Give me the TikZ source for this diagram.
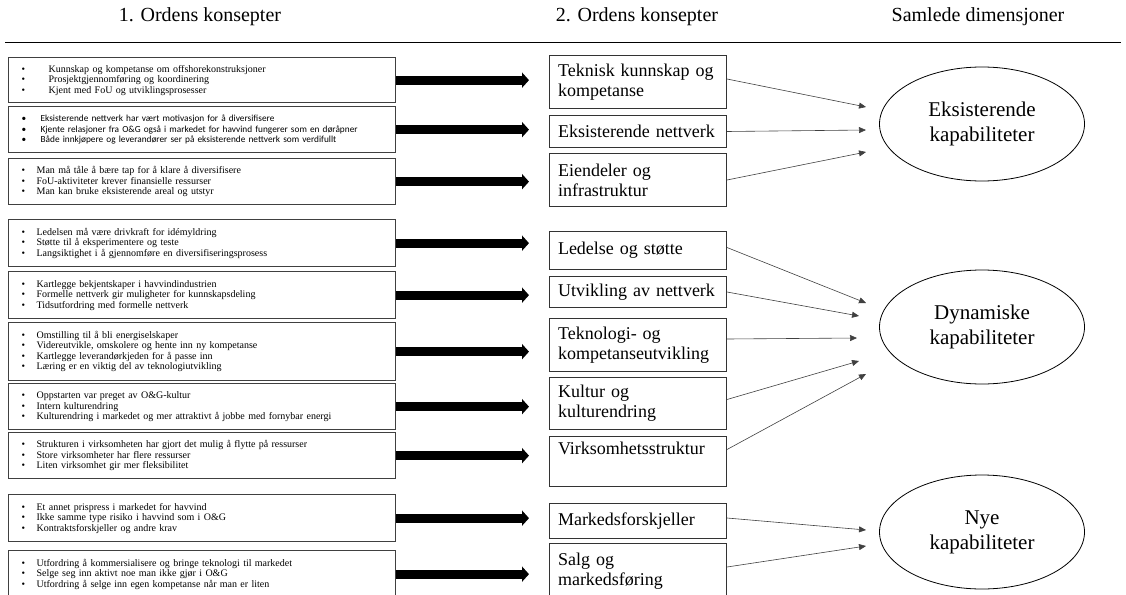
\documentclass[tikz,border=0pt]{standalone}
\usepackage{fontspec}
\setmainfont{Liberation Serif}
\newfontfamily\calibri{Carlito}
\usetikzlibrary{arrows.meta,shapes.geometric}
\newcommand\itm[1][15pt]{\makebox[#1][l]{\textbullet}}

\begin{document}
\begin{tikzpicture}[x=1pt, y=-1pt,
  lbox/.style={draw=black!75, line width=1.3pt, anchor=north west, minimum width=387pt, text width=361pt, inner xsep=13pt, inner ysep=0pt, align=left, font=\fontsize{10}{10.5}\selectfont},
  mbox/.style={draw=black!80, line width=1pt, anchor=north west, minimum width=177pt, text width=160pt, inner xsep=8.5pt, inner ysep=0pt, align=left, font=\fontsize{18}{20}\selectfont},
  dim/.style={draw, ellipse, line width=0.8pt, minimum width=205pt, minimum height=114pt, align=center, font=\fontsize{21}{25}\selectfont},
  head/.style={anchor=base, font=\fontsize{20}{24}\selectfont},
  fat/.style={line width=9pt, -{Triangle[length=7pt,width=15pt]}, shorten >=20pt},
  thin/.style={draw=black!75, line width=0.6pt, -{Triangle[length=7pt,width=6pt]}}]

\useasboundingbox (0,0) rectangle (1126,594);
\clip (0,0) rectangle (1126,594);

% headings
\node[head] (h1) at (200,22) {1. Ordens konsepter};
\node[head] (h2) at (637,22) {2. Ordens konsepter};
\node[head] (h3) at (978,22) {Samlede dimensjoner};
\draw[line width=0.8pt] (5,42) -- (1121,42);

% 1. ordens konsepter
\node[lbox, minimum height=45pt] (l1) at (8,57) {\itm[27pt]Kunnskap og kompetanse om offshorekonstruksjoner\\ \itm[27pt]Prosjektgjennomføring og koordinering\\ \itm[27pt]Kjent med FoU og utviklingsprosesser};
\node[lbox, minimum height=46pt, font=\calibri\fontsize{9.3}{10.5}\selectfont] (l2) at (8,106) {\itm[19pt]Eksisterende nettverk har vært motivasjon for å diversifisere\\ \itm[19pt]Kjente relasjoner fra O\&G også i markedet for havvind fungerer som en døråpner\\ \itm[19pt]Både innkjøpere og leverandører ser på eksisterende nettverk som verdifullt};
\node[lbox, minimum height=46pt] (l3) at (8,158) {\itm Man må tåle å bære tap for å klare å diversifisere\\ \itm FoU-aktiviteter krever finansielle ressurser\\ \itm Man kan bruke eksisterende areal og utstyr};
\node[lbox, minimum height=47pt] (l4) at (8,219) {\itm Ledelsen må være drivkraft for idémyldring\\ \itm Støtte til å eksperimentere og teste\\ \itm Langsiktighet i å gjennomføre en diversifiseringsprosess};
\node[lbox, minimum height=47pt] (l5) at (8,271) {\itm Kartlegge bekjentskaper i havvindindustrien\\ \itm Formelle nettverk gir muligheter for kunnskapsdeling\\ \itm Tidsutfordring med formelle nettverk};
\node[lbox, minimum height=58pt] (l6) at (8,322) {\itm Omstilling til å bli energiselskaper\\ \itm Videreutvikle, omskolere og hente inn ny kompetanse\\ \itm Kartlegge leverandørkjeden for å passe inn\\ \itm Læring er en viktig del av teknologiutvikling};
\node[lbox, minimum height=46pt] (l7) at (8,383) {\itm Oppstarten var preget av O\&G-kultur\\ \itm Intern kulturendring\\ \itm Kulturendring i markedet og mer attraktivt å jobbe med fornybar energi};
\node[lbox, minimum height=46pt] (l8) at (8,432) {\itm Strukturen i virksomheten har gjort det mulig å flytte på ressurser\\ \itm Store virksomheter har flere ressurser\\ \itm Liten virksomhet gir mer fleksibilitet};
\node[lbox, minimum height=47pt] (l9) at (8,494) {\itm Et annet prispress i markedet for havvind\\ \itm Ikke samme type risiko i havvind som i O\&G\\ \itm Kontraktsforskjeller og andre krav};
\node[lbox, minimum height=47pt] (l10) at (8,550) {\itm Utfordring å kommersialisere og bringe teknologi til markedet\\ \itm Selge seg inn aktivt noe man ikke gjør i O\&G\\ \itm Utfordring å selge inn egen kompetanse når man er liten};

% 2. ordens konsepter
\node[mbox, minimum height=53pt] (m1) at (549,55) {Teknisk kunnskap og\\kompetanse};
\node[mbox, minimum height=32pt] (m2) at (549,115) {Eksisterende nettverk};
\node[mbox, minimum height=53pt] (m3) at (549,153) {Eiendeler og\\infrastruktur};
\node[mbox, minimum height=38pt] (m4) at (549,231) {Ledelse og støtte};
\node[mbox, minimum height=31pt] (m5) at (549,276) {Utvikling av nettverk};
\node[mbox, minimum height=53pt] (m6) at (549,318) {Teknologi- og\\kompetanseutvikling};
\node[mbox, minimum height=52pt] (m7) at (549,377) {Kultur og\\kulturendring};
\node[mbox, minimum height=50pt] (m8) at (549,436) {Virksomhetsstruktur\\\strut};
\node[mbox, minimum height=35pt] (m9) at (549,503) {Markedsforskjeller};
\node[mbox, minimum height=55pt] (m10) at (549,543) {Salg og\\markedsføring};

% samlede dimensjoner
\node[dim] (eks) at (982,124) {Eksisterende\\kapabiliteter};
\node[dim] (dyn) at (982,327) {Dynamiske\\kapabiliteter};
\node[dim] (nye) at (982,532) {Nye\\kapabiliteter};

\coordinate (e1) at (866,107);
\coordinate (e2) at (866,130);
\coordinate (e3) at (866,152);
\coordinate (d1) at (866,303);
\coordinate (d2) at (859,316);
\coordinate (d3) at (857,338);
\coordinate (d4) at (859,361);
\coordinate (d5) at (866,374);
\coordinate (n1) at (866,530);
\coordinate (n2) at (866,546);

\draw[fat] (l1.east) -- (l1.east -| m1.west);
\draw[fat] (l2.east) -- (l2.east -| m2.west);
\draw[fat] (l3.east) -- (l3.east -| m3.west);
\draw[fat] (l4.east) -- (l4.east -| m4.west);
\draw[fat] (l5.east) -- (l5.east -| m5.west);
\draw[fat] (l6.east) -- (l6.east -| m6.west);
\draw[fat] (l7.east) -- (l7.east -| m7.west);
\draw[fat] (l8.east) -- (l8.east -| m8.west);
\draw[fat] (l9.east) -- (l9.east -| m9.west);
\draw[fat] (l10.east) -- (l10.east -| m10.west);

\draw[thin] ([yshift=3pt]m1.east) -- (e1);
\draw[thin] (m2.east) -- (e2);
\draw[thin] (m3.east) -- (e3);
\draw[thin] ([yshift=3pt]m4.east) -- (d1);
\draw[thin] (m5.east) -- (d2);
\draw[thin] ([yshift=6pt]m6.east) -- (d3);
\draw[thin] ([yshift=4pt]m7.east) -- (d4);
\draw[thin] ([yshift=12pt]m8.east) -- (d5);
\draw[thin] ([yshift=3pt]m9.east) -- (n1);
\draw[thin] ([yshift=4pt]m10.east) -- (n2);

\end{tikzpicture}
\end{document}
